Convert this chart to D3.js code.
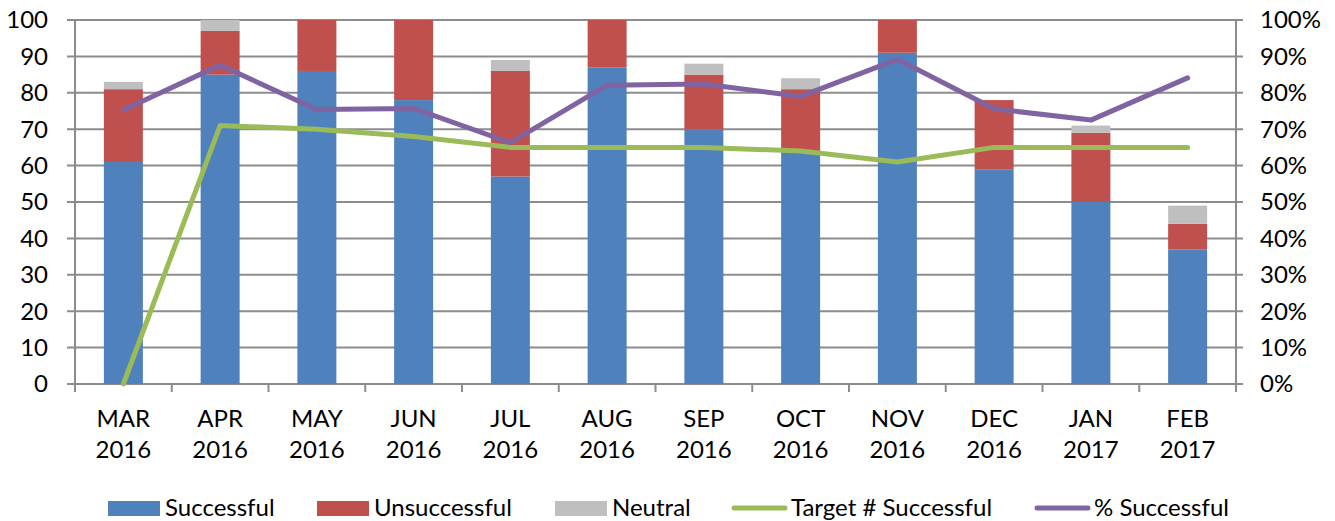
<!DOCTYPE html>
<html><head><meta charset="utf-8">
<script src="https://cdn.jsdelivr.net/npm/d3@7"></script>
<style>body{margin:0;background:#fff}svg{display:block}text{font-family:Lato,"Open Sans",sans-serif;fill:#000}</style>
</head><body><svg id="c" width="1335" height="521"></svg>
<script>
const months = ["MAR","APR","MAY","JUN","JUL","AUG","SEP","OCT","NOV","DEC","JAN","FEB"];
const years = ["2016","2016","2016","2016","2016","2016","2016","2016","2016","2016","2017","2017"];
const successful = [61,85,86,78,57,87,70,64,91,59,50,37];
const unsuccessful = [20,12,28,25,29,19,15,17,11,19,19,7];
const neutral = [2,3,2,2,3,2,3,3,2,0,2,5];
const target = [0,71,70,68,65,65,65,64,61,65,65,65];
const pctSuccessful = [75.3,87.6,75.4,75.7,66.3,82.1,82.4,79.0,89.2,75.6,72.5,84.1];
const leftTicks = [0,10,20,30,40,50,60,70,80,90,100];
const rightTicks = [0,10,20,30,40,50,60,70,80,90,100];

const svg = d3.select("#c");
const m = {l:75, r:1236, t:20, b:384};
const x = d3.scaleBand().domain(d3.range(months.length)).range([m.l, m.r]).paddingInner(0.597).paddingOuter(0.2985);
const xc = i => x(i) + x.bandwidth()/2;
const y = d3.scaleLinear().domain([0,100]).range([m.b, m.t]);
const y2 = d3.scaleLinear().domain([0,100]).range([m.b, m.t]);
const gridCol = "#8c8c8c";

// gridlines
svg.append("g").selectAll("line").data(leftTicks).join("line")
  .attr("x1", m.l-8).attr("x2", m.r+7).attr("y1", d=>y(d)).attr("y2", d=>y(d))
  .attr("stroke", gridCol).attr("stroke-width", 2);

// clip
svg.append("clipPath").attr("id","pc").append("rect").attr("x",m.l).attr("y",m.t).attr("width",m.r-m.l).attr("height",m.b-m.t);

const stackData = months.map((mo,i)=>({i, s:successful[i], u:unsuccessful[i], n:neutral[i]}));
const stack = d3.stack().keys(["s","u","n"])(stackData);
const colors = {s:"#4F81BD", u:"#C0504D", n:"#BFBFBF"};
const bars = svg.append("g").attr("clip-path","url(#pc)");
stack.forEach(layer=>{
  bars.append("g").selectAll("rect").data(layer).join("rect")
    .attr("x", d=>x(d.data.i)).attr("width", x.bandwidth())
    .attr("y", d=>y(d[1])).attr("height", d=>y(d[0])-y(d[1]))
    .attr("fill", colors[layer.key]);
});

// axes lines
svg.append("line").attr("x1",m.l).attr("x2",m.l).attr("y1",m.t).attr("y2",m.b+8).attr("stroke",gridCol).attr("stroke-width",2);
svg.append("line").attr("x1",m.r).attr("x2",m.r).attr("y1",m.t).attr("y2",m.b+8).attr("stroke",gridCol).attr("stroke-width",2);
const step = (m.r-m.l)/months.length;
svg.append("g").selectAll("line").data(d3.range(months.length+1)).join("line")
  .attr("x1", d=>m.l+d*step).attr("x2", d=>m.l+d*step).attr("y1", m.b).attr("y2", m.b+8)
  .attr("stroke", gridCol).attr("stroke-width", 2);

// lines
svg.append("path").attr("d", d3.line().x((d,i)=>xc(i)).y(d=>y(d))(target))
  .attr("fill","none").attr("stroke","#9BBB59").attr("stroke-width",5).attr("stroke-linejoin","round").attr("stroke-linecap","round");
svg.append("path").attr("d", d3.line().x((d,i)=>xc(i)).y(d=>y2(d))(pctSuccessful))
  .attr("fill","none").attr("stroke","#8064A2").attr("stroke-width",5).attr("stroke-linejoin","round").attr("stroke-linecap","round");

// tick labels
const fs = 24;
svg.append("g").selectAll("text").data(leftTicks).join("text")
  .attr("x", 48).attr("y", d=>y(d)).attr("dy","0.35em").attr("text-anchor","end").attr("font-size",fs).text(d=>d);
svg.append("g").selectAll("text").data(rightTicks).join("text")
  .attr("x", 1260).attr("y", d=>y2(d)).attr("dy","0.35em").attr("text-anchor","start").attr("font-size",fs).text(d=>d+"%");
const cl = svg.append("g").selectAll("text").data(months).join("text")
  .attr("x",(d,i)=>xc(i)).attr("text-anchor","middle").attr("font-size",fs);
cl.append("tspan").attr("x",(d,i)=>xc(i)).attr("y",427).text(d=>d);
cl.append("tspan").attr("x",(d,i)=>xc(i)).attr("y",458).text((d,i)=>years[i]);

// legend
const legend = [
  {label:"Successful", type:"rect", color:"#4F81BD", x:108},
  {label:"Unsuccessful", type:"rect", color:"#C0504D", x:317},
  {label:"Neutral", type:"rect", color:"#BFBFBF", x:555},
  {label:"Target # Successful", type:"line", color:"#9BBB59", x:732},
  {label:"% Successful", type:"line", color:"#8064A2", x:1035}
];
const lg = svg.append("g");
legend.forEach(it=>{
  if(it.type==="rect"){
    lg.append("rect").attr("x",it.x).attr("y",501).attr("width",52).attr("height",15).attr("fill",it.color);
    lg.append("text").attr("x",it.x+57).attr("y",516).attr("font-size",fs).text(it.label);
  } else {
    lg.append("line").attr("x1",it.x+2).attr("x2",it.x+53).attr("y1",508).attr("y2",508).attr("stroke",it.color).attr("stroke-width",5).attr("stroke-linecap","round");
    lg.append("text").attr("x",it.x+59).attr("y",516).attr("font-size",fs).text(it.label);
  }
});
</script></body></html>
